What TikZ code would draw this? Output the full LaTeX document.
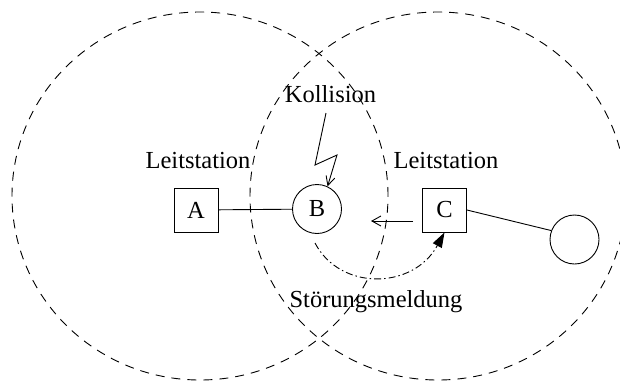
\documentclass[tikz,border=0pt]{standalone}
\usepackage{fontspec}
\setmainfont{Liberation Serif}
\usetikzlibrary{arrows.meta}
\begin{document}
\begin{tikzpicture}[x=1pt,y=-1pt,
  every node/.style={font=\fontsize{24.5}{28}\selectfont},
  boxnode/.style={draw, line width=0.9pt, minimum width=44pt, minimum height=44pt, inner sep=0pt},
  circnode/.style={draw, circle, line width=0.9pt, minimum size=49pt, inner sep=0pt},
  coverage/.style={line width=0.9pt, dash pattern=on 9pt off 7pt},
  conn/.style={line width=0.9pt},
  dashdot/.style={line width=0.9pt, dash pattern=on 7pt off 3pt on 1.5pt off 3pt},
  lbl/.style={anchor=base, inner sep=0pt}]
\useasboundingbox (0,0) rectangle (620,380);
\clip (0,0) rectangle (620,380);
% coverage ranges
\draw[coverage] (200,196) ellipse [x radius=188pt, y radius=184pt];
\draw[coverage] (438,196) ellipse [x radius=188pt, y radius=184pt];
% stations
\node[boxnode] (A) at (196,210) {A};
\node[circnode] (B) at (317,209) {B};
\node[boxnode] (C) at (444.5,210) {C};
\node[circnode] (S) at (574.5,239.5) {};
% labels
\node[lbl] (kol) at (330.5,102) {Kollision};
\node[lbl] (l1) at (198,168) {Leitstation};
\node[lbl] (l2) at (446,168) {Leitstation};
\node[lbl] (sm) at (376,307) {Störungsmeldung};
% connections
\draw[conn] (A) -- (B);
\draw[conn] (C.east) -- (S.159);
% collision bolt
\coordinate (bolt) at (326,113);
\draw[conn, -{Straight Barb[length=9pt,width=9pt]}] (bolt) -- (315,165) -- (337,155) -- (B.65);
% arrow C -> B
\coordinate (ab) at (413,221);
\coordinate (ae) at (371,221);
\draw[conn, -{Straight Barb[length=9pt,width=10pt]}] (ab) -- (ae);
% dash-dot message
\coordinate (ds) at (315,243);
\draw[dashdot, -{Triangle[length=15pt,width=10pt]}] (ds) .. controls (340,291) and (413,290) .. (C.south);
\end{tikzpicture}
\end{document}
